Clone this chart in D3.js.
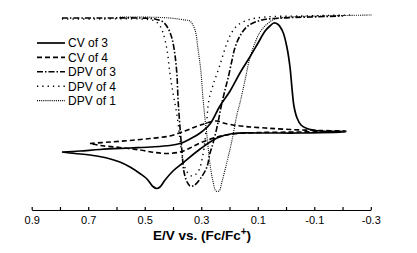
<!DOCTYPE html>
<html><head><meta charset="utf-8">
<script src="https://cdn.jsdelivr.net/npm/d3@7"></script>
<style>
html,body{margin:0;padding:0;background:#fff;}
svg{display:block;font-family:Arial,"Liberation Sans",sans-serif;}
</style></head>
<body>
<svg id="chart" width="417" height="253"></svg>
<script>
// ---- data (potential E in V vs Fc/Fc+, current in arbitrary units) ----
const seriesNames = ["CV of 3", "CV of 4", "DPV of 3", "DPV of 4", "DPV of 1"];

const cv3E = [0.793,0.729,0.658,0.552,0.481,0.411,0.375,0.340,0.304,0.269,0.234,0.198,0.163,0.128,0.099,0.074,0.057,0.043,0.028,0.011,-0.003,-0.014,-0.021,-0.028,-0.039,-0.053,-0.074,-0.120,-0.212,
              -0.049,0.092,0.188,0.244,0.304,0.365,0.400,0.428,0.446,0.457,0.471,0.492,0.517,0.552,0.588,0.634,0.694,0.747,0.793];
const cv3I = [58,59,60.5,62,63,64.5,66.5,71,77,86,104,119,137,153,167,179,184,187,185.5,178,163,143,122,104,92,85,81.5,79,78,
              77,77,76.5,72,61,47,39,30,23,21.5,23.5,31,36.5,43,48,52,55,56.5,58];

const cv4E = [0.694,0.623,0.552,0.481,0.411,0.358,0.322,0.287,0.262,0.244,0.227,0.198,0.145,0.074,-0.014,-0.120,-0.212,
              -0.049,0.092,0.188,0.244,0.304,0.340,0.375,0.421,0.464,0.517,0.588,0.658,0.694];
const cv4I = [66.5,68,69.5,71.5,74,79,83,86.5,88.5,89,87.5,85.5,83.5,82,80.5,79.5,79,
              78,77.5,76,73,67,62,58,56.5,57.5,60,62.5,64.5,66.5];

const dpv3E = [0.793,0.658,0.517,0.464,0.435,0.418,0.404,0.393,0.386,0.382,0.375,0.368,0.361,0.350,0.340,0.326,0.304,0.280,0.269,0.258,0.241,0.230,0.216,0.205,0.191,0.181,0.163,0.135,0.085,0.014,-0.085,-0.202];
const dpv3I = [192,192,192,191,188,182,172,155,135,110,82,58,38,28,24,24.5,31,43,57,67,87,103,120,132,150,162,174,184,190,192,193,194];

const dpv4E = [0.793,0.658,0.517,0.464,0.446,0.435,0.421,0.411,0.400,0.386,0.375,0.365,0.350,0.333,0.312,0.294,0.283,0.273,0.258,0.234,0.209,0.191,0.170,0.135,0.074,-0.049,-0.226];
const dpv4I = [191,191,191,189,184,177,160,137,117,95,70,50,38,34,38,55,80,110,125,145,167,178,185,190,193,194,195];

const dpv1E = [0.588,0.517,0.411,0.358,0.340,0.322,0.312,0.301,0.294,0.287,0.280,0.273,0.266,0.258,0.248,0.237,0.227,0.209,0.191,0.174,0.163,0.145,0.128,0.110,0.092,0.067,0.039,-0.014,-0.120,-0.304];
const dpv1I = [193,193,192,190,189,180,162,138,112,92,75,55,40,28,19,19,28,48,70,95,107,130,152,167,178,186,191,193,194,195];

const xTicks = [0.9,0.8,0.7,0.6,0.5,0.4,0.3,0.2,0.1,0.0,-0.1,-0.2,-0.3];
const xTickLabels = ["0.9","","0.7","","0.5","","0.3","","0.1","","-0.1","","-0.3"];

// ---- drawing ----
const svg = d3.select("#chart");
const x = d3.scaleLinear().domain([0.9, -0.3]).range([31.7, 370.8]);
const y = d3.scaleLinear().domain([0, 200]).range([210, 10]);

const styles = [
  {dash: null, w: 1.7},
  {dash: "5,3", w: 1.6},
  {dash: "6,2,1.5,2", w: 1.6},
  {dash: "1.3,4", w: 1.4},
  {dash: "1,1.1", w: 1.1}
];
const series = [
  d3.zip(cv3E, cv3I), d3.zip(cv4E, cv4I), d3.zip(dpv3E, dpv3I), d3.zip(dpv4E, dpv4I), d3.zip(dpv1E, dpv1I)
];
const line = d3.line().x(d => x(d[0])).y(d => y(d[1])).curve(d3.curveCatmullRom.alpha(0.5));

series.forEach((s, i) => {
  svg.append("path").attr("d", line(s)).attr("fill", "none").attr("stroke", "#000")
    .attr("stroke-width", styles[i].w)
    .attr("stroke-dasharray", styles[i].dash)
    .attr("stroke-linejoin", "round");
});

// axis
const axis = d3.axisBottom(x).tickValues(xTicks).tickSizeInner(-3).tickSizeOuter(0).tickPadding(6)
  .tickFormat((d, i) => xTickLabels[i]);
const gx = svg.append("g").attr("transform", "translate(0,210)").call(axis);
gx.select(".domain").attr("stroke", "#000").attr("stroke-width", 1.2);
gx.selectAll(".tick line").attr("stroke", "#000").attr("stroke-width", 1.2);
gx.selectAll(".tick text").attr("font-size", 11).attr("fill", "#000").attr("font-family", "Arial, 'Liberation Sans', sans-serif");

const title = svg.append("text").attr("x", 202).attr("y", 240).attr("text-anchor", "middle")
  .attr("font-size", 13.5).attr("font-weight", "bold");
title.append("tspan").text("E/V vs. (Fc/Fc");
title.append("tspan").attr("font-size", 10).attr("dy", -5).text("+");
title.append("tspan").attr("dy", 5).text(")");

// legend
const legend = svg.append("g");
seriesNames.forEach((name, i) => {
  const cy = 43 + i * 14.4;
  legend.append("line").attr("x1", 37).attr("x2", 65).attr("y1", cy).attr("y2", cy)
    .attr("stroke", "#000").attr("stroke-width", styles[i].w).attr("stroke-dasharray", styles[i].dash);
  legend.append("text").attr("x", 68).attr("y", cy + 4.3).attr("font-size", 12).text(name);
});
</script>
</body></html>
